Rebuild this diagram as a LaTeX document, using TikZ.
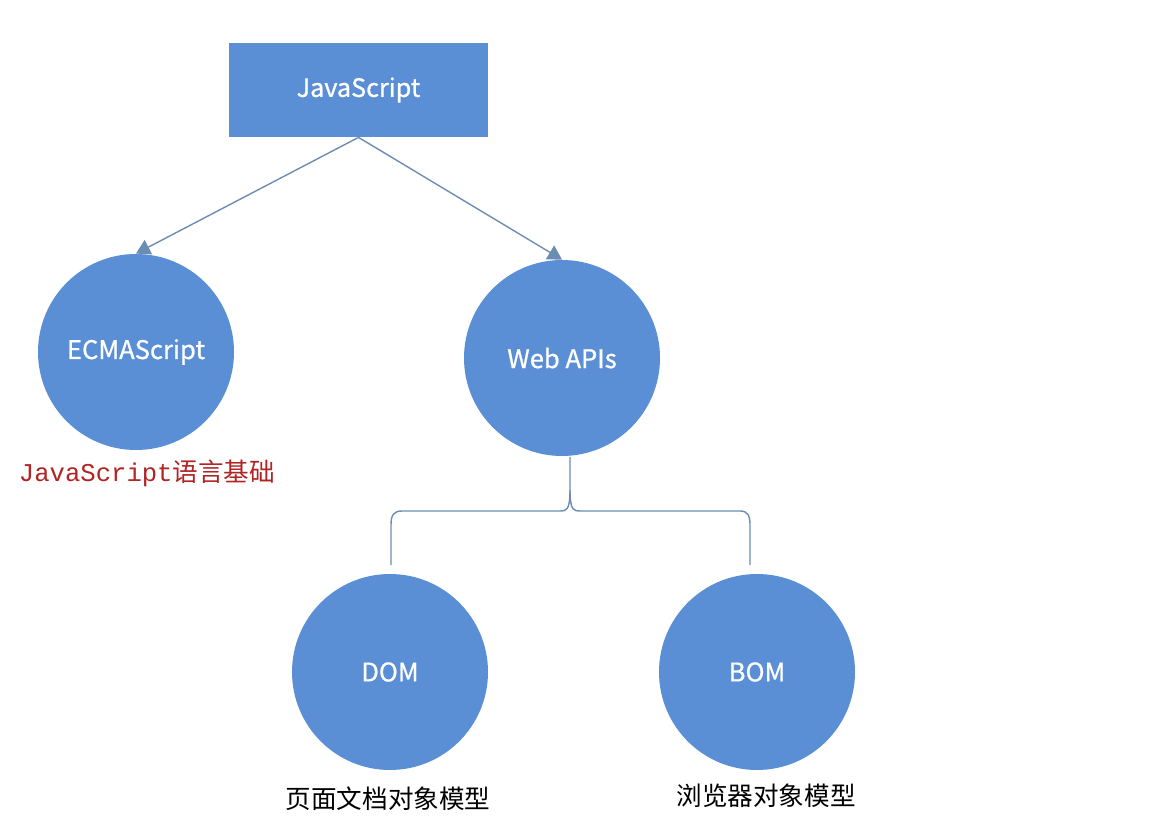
\documentclass[tikz,border=0pt]{standalone}
\usepackage{fontspec}
\setmainfont{Noto Sans CJK SC}
\newfontfamily\cjk{Noto Sans CJK SC}
\newfontfamily\cjkw[FakeBold=0.8]{Noto Sans CJK SC}
\newfontfamily\monof{Liberation Mono}
\usetikzlibrary{arrows.meta}
\definecolor{nodeblue}{HTML}{5A8FD5}
\definecolor{linec}{HTML}{6C8CB4}
\definecolor{redtxt}{HTML}{B02424}
\begin{document}
\begin{tikzpicture}[x=0.5pt,y=-0.5pt,
  boxnode/.style={fill=nodeblue,draw=none,minimum width=129.5pt,minimum height=47pt,inner sep=0pt,text=white,font=\cjkw\fontsize{12.6pt}{15pt}\selectfont},
  circnode/.style={circle,fill=nodeblue,draw=none,minimum size=98pt,inner sep=0pt,text=white,font=\cjkw\fontsize{12.8pt}{15pt}\selectfont},
  conn/.style={draw=linec,line width=0.7pt,-{Triangle[length=7pt,width=8pt]}},
  bracel/.style={draw=linec,line width=0.7pt},
  lbl/.style={inner sep=0pt,font=\cjk\fontsize{12.8pt}{15pt}\selectfont}]
\useasboundingbox (0,0) rectangle (1170,822);
\node[boxnode] (js) at (358.5,90) {JavaScript};
\node[circnode] (ecma) at (136,352) {\raisebox{-1pt}{ECMAScript}};
\node[circnode] (web) at (562,358) {Web APIs};
\node[circnode] (dom) at (390,672) {DOM};
\node[circnode] (bom) at (757,672) {BOM};
\draw[conn] (js.south) -- (ecma.north);
\draw[conn] (js.south) -- (web.north);
\coordinate (btop) at (570,457);
\coordinate (bl) at (391,565);
\coordinate (br) at (750,565);
\draw[bracel] (btop) -- (570,490) .. controls (570,511) and (566,511) .. (560,511) -- (402,511) .. controls (393,511) and (391,516) .. (391,525) -- (bl);
\draw[bracel] (570,490) .. controls (570,511) and (574,511) .. (580,511) -- (740,511) .. controls (748,511) and (750,516) .. (750,525) -- (br);
\node[lbl,text=redtxt] (ecmalbl) at (147,473) {{\monof JavaScript}语言基础};
\node[lbl] (domlbl) at (388,799) {页面文档对象模型};
\node[lbl] (bomlbl) at (766,796) {浏览器对象模型};
\end{tikzpicture}
\end{document}
